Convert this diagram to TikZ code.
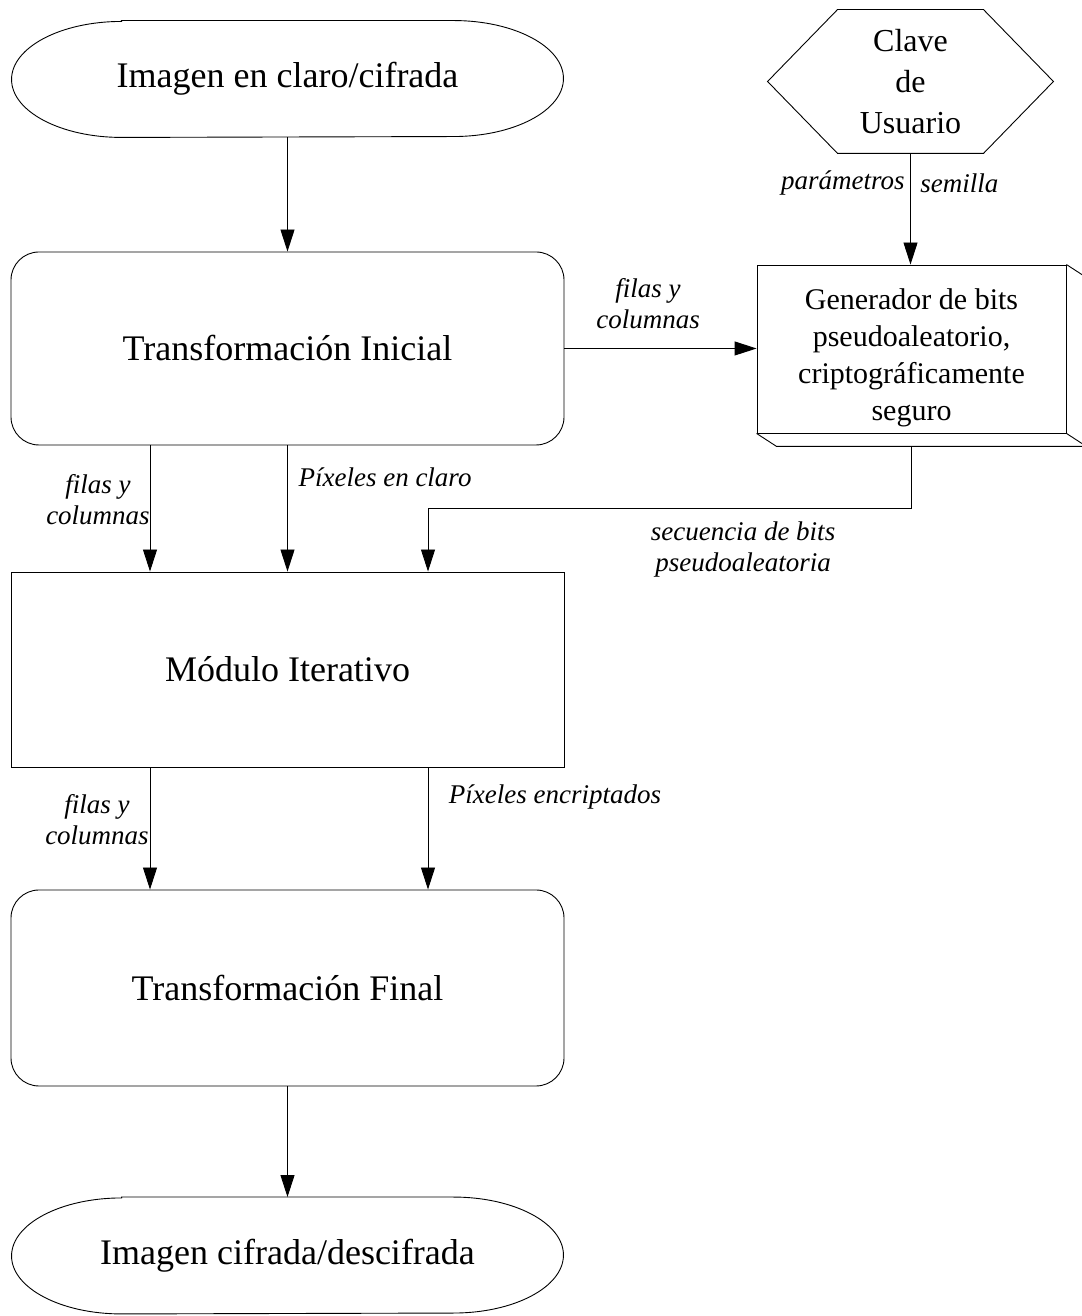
\documentclass[tikz,border=0pt]{standalone}
\usepackage{fontspec}
\setmainfont{Liberation Serif}
\usetikzlibrary{arrows.meta,calc}

\begin{document}
\begin{tikzpicture}[
  x=1pt, y=1pt, line width=0.9pt,
  box/.style={draw, minimum width=553pt, inner sep=0pt},
  roundbox/.style={box, rounded corners=28pt},
  terminal/.style={minimum width=551pt, minimum height=116pt, inner sep=0pt},
  big/.style={font=\fontsize{36}{42}\selectfont},
  lab/.style={font=\fontsize{27}{31}\selectfont\itshape, align=center, inner sep=0pt},
  arr/.style={-{Triangle[length=22pt,width=14pt]}},
]
% page
\fill[white] (0,0) rectangle (1081,1316);
\useasboundingbox (0,0) rectangle (1081,1316);

% main column
\node[terminal, big] (src) at (287.5,1237) {Imagen en claro/cifrada};
\node[roundbox, big, minimum height=193pt] (TI) at (287.5,967.5) {Transformación Inicial};
\node[box, big, minimum height=195pt] (MI) at (287.5,646.5) {Módulo Iterativo};
\node[roundbox, big, minimum height=196pt] (TF) at (287.5,328) {Transformación Final};
\node[terminal, big] (dst) at (287.5,60.5) {Imagen cifrada/descifrada};

% start / end terminals with elliptical ends
\foreach \n in {src,dst}{
  \draw ([xshift=110pt]\n.north west) -- ([xshift=-110pt]\n.north east)
    arc[start angle=90, end angle=-90, x radius=110pt, y radius=58pt]
    -- ([xshift=110pt]\n.south west)
    arc[start angle=270, end angle=90, x radius=110pt, y radius=58pt] -- cycle;
}

% user key (hexagon)
\node[minimum width=285pt, minimum height=143pt, inner sep=0pt,
      font=\fontsize{32}{41}\selectfont, align=center] (key) at (910.5,1234.5)
      {Clave\\de\\Usuario};
\draw (key.west) -- ([xshift=70pt]key.north west) -- ([xshift=-70pt]key.north east)
  -- (key.east) -- ([xshift=-70pt]key.south east) -- ([xshift=70pt]key.south west) -- cycle;

% bit generator (box with depth)
\node[draw, minimum width=309pt, minimum height=168pt, inner sep=0pt] (gen) at (911.5,967) {};
\node[font=\fontsize{30}{37}\selectfont, align=center, inner sep=0pt] (gentext)
  at ([yshift=-9pt]gen.center)
  {Generador de bits\\pseudoaleatorio,\\criptográficamente\\seguro};
\draw (gen.north east) -- ([shift={(20pt,-13pt)}]gen.north east)
  -- ([shift={(20pt,-13pt)}]gen.south east) -- ([shift={(20pt,-13pt)}]gen.south west)
  -- (gen.south west);
\draw (gen.south east) -- ([shift={(20pt,-13pt)}]gen.south east);

% connectors
\draw[arr] (src.south) -- (TI.north);
\draw[arr] (key.south) -- (key.south |- gen.north);
\draw[arr] (TI.east) -- (TI.east -| gen.west);
\draw[arr] ([xshift=-137.5pt]TI.south) -- ([xshift=-137.5pt]MI.north);
\draw[arr] (TI.south) -- (MI.north);
\draw[arr] ([yshift=-13pt]gen.south) -- ++(0,-62) -| ([xshift=140.5pt]MI.north);
\draw[arr] ([xshift=-137.5pt]MI.south) -- ([xshift=-137.5pt]TF.north);
\draw[arr] ([xshift=140.5pt]MI.south) -- ([xshift=140.5pt]TF.north);
\draw[arr] (TF.south) -- (dst.north);

% connector labels
\node[lab, anchor=east] (lpar) at (905,1133) {parámetros};
\node[lab, anchor=west] (lsem) at (920,1133) {semilla};
\node[lab] (lfc1) at (648,1012) {filas y\\columnas};
\node[lab] (lfc2) at (98,816) {filas y\\columnas};
\node[lab] (lpc) at (385,839) {Píxeles en claro};
\node[lab] (lseq) at (743,766) {secuencia de bits\\pseudoaleatoria};
\node[lab] (lfc3) at (97,496) {filas y\\columnas};
\node[lab] (lpe) at (555,519) {Píxeles encriptados};
\end{tikzpicture}
\end{document}
